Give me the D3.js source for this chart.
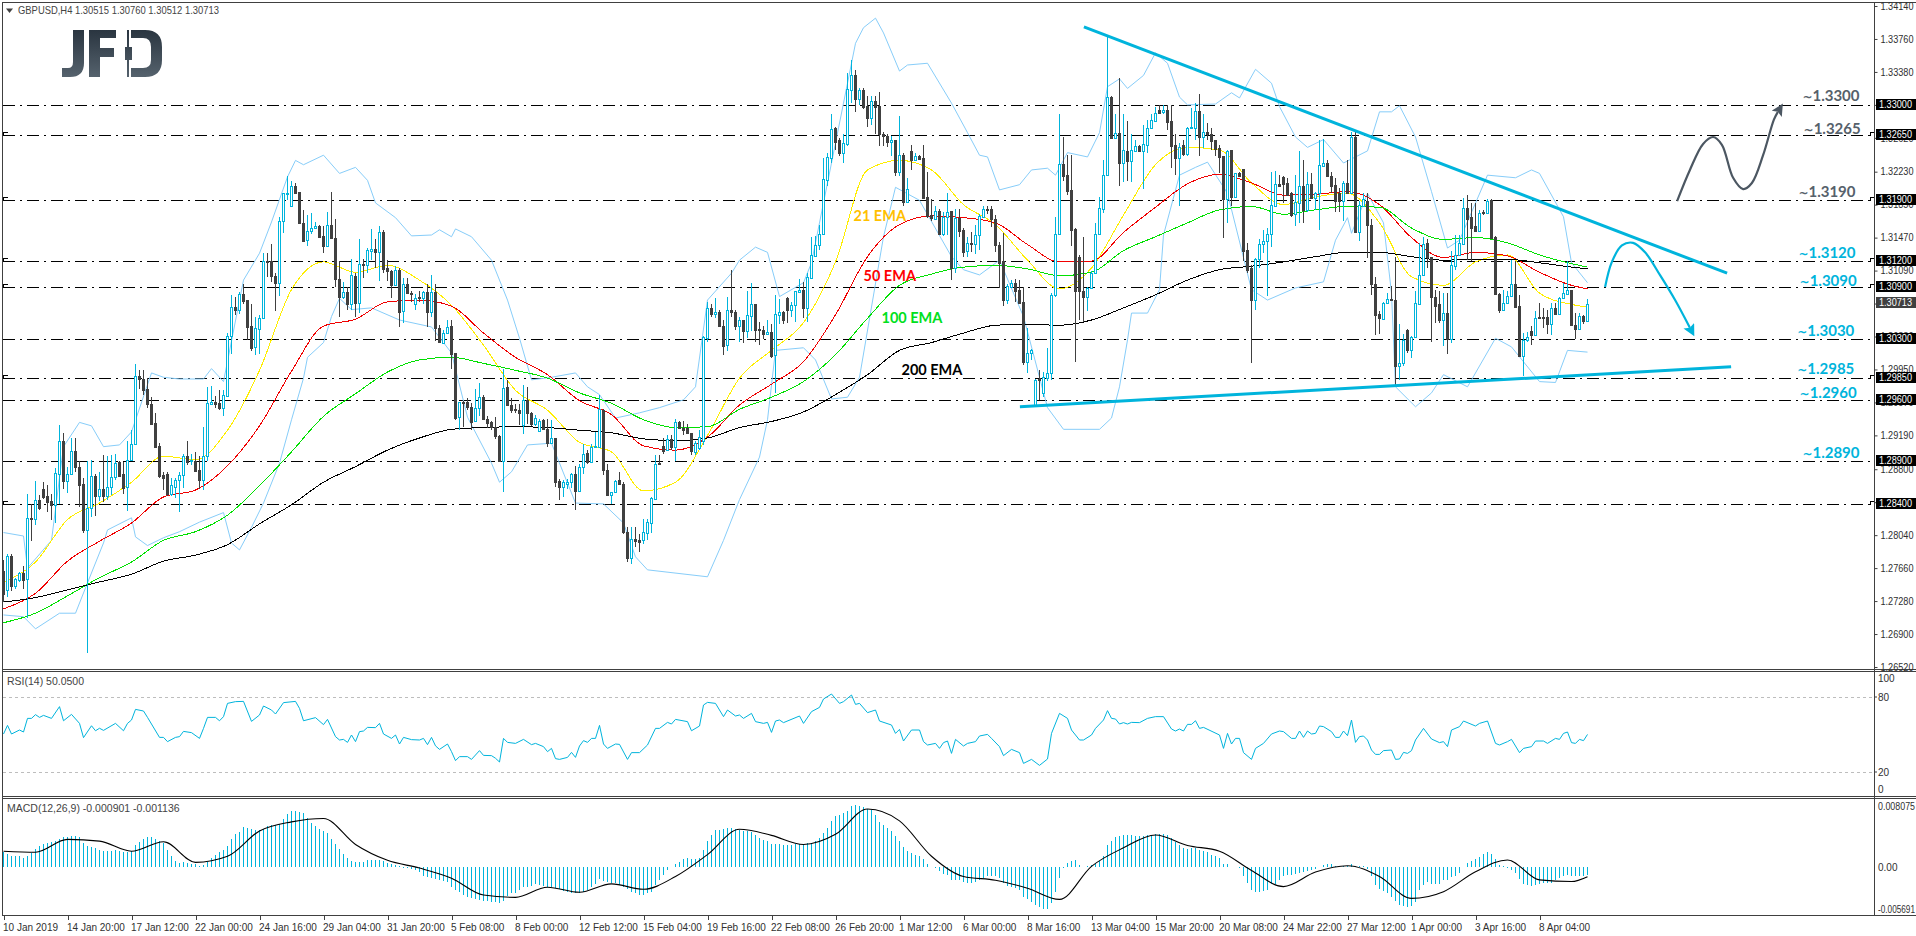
<!DOCTYPE html>
<html>
<head>
<meta charset="utf-8">
<title>GBPUSD H4</title>
<script src="https://cdn.jsdelivr.net/npm/d3@7"></script>
<style>
html, body { margin: 0; padding: 0; background: #fff; overflow: hidden; }
text { font-family: "Liberation Sans", sans-serif; }
.note { font-family: Lato, sans-serif; font-weight: 700; font-size: 15px; }
.ema { font-family: Lato, sans-serif; font-weight: 700; font-size: 14.5px; }
</style>
</head>
<body>
<div class="chart" style="width:1916px;height:936px"></div>
<script>
// all prices below are price x 10000, one entry per 4h bar
const opens = [
12763,12741,12780,12745,12752,12760,12753,12824,12823,12845,12857,12849,12843,12839,12875,12912,12866,12875,12901,12882,
12863,12810,12835,12872,12849,12857,12849,12860,12871,12888,12874,12859,12891,12909,12988,12984,12973,12955,12933,12907,
12873,12875,12852,12860,12867,12873,12895,12889,12890,12879,12868,12895,12955,12958,12956,12951,12964,13034,13067,13064,
13082,13075,13045,13021,13042,13054,13120,13120,13103,13095,13166,13197,13183,13207,13200,13164,13144,13155,13158,13160,
13149,13137,13161,13147,13099,13079,13084,13071,13103,13072,13117,13116,13132,13134,13130,13154,13112,13109,13092,13110,
13062,13094,13083,13071,13079,13077,13084,13061,13084,13043,13026,13037,13045,13014,12940,12958,12958,12952,12936,12950,
12963,12938,12934,12929,12918,12890,12975,12954,12949,12948,12931,12960,12945,12932,12924,12937,12926,12910,12916,12866,
12860,12863,12865,12874,12855,12883,12899,12888,12906,12906,12948,12879,12850,12854,12867,12863,12808,12778,12800,12798,
12798,12806,12818,12846,12887,12907,12902,12915,12906,12934,12927,12927,12922,12900,12904,12912,13031,13066,13059,13061,
13045,13023,13064,13061,13045,13052,13039,13057,13071,13042,13041,13036,13038,13012,13058,13061,13077,13064,13069,13084,
13087,13066,13101,13126,13138,13151,13213,13239,13273,13260,13244,13255,13317,13335,13307,13317,13299,13285,13304,13299,
13267,13264,13257,13259,13223,13242,13188,13247,13237,13241,13239,13194,13173,13169,13178,13151,13171,13178,13112,13170,
13156,13131,13141,13140,13150,13171,13180,13180,13168,13138,13120,13075,13090,13095,13087,13073,13004,13014,12953,12984,
12968,12985,12991,13081,13151,13232,13219,13202,13157,13125,13086,13078,13089,13106,13151,13180,13219,13309,13262,13268,
13233,13247,13235,13247,13253,13247,13254,13273,13282,13294,13292,13294,13281,13254,13239,13254,13243,13273,13273,13293,
13263,13269,13267,13259,13250,13241,13191,13248,13194,13221,13226,13133,13112,13075,13122,13140,13143,13151,13184,13209,
13217,13210,13198,13174,13187,13206,13179,13209,13193,13198,13230,13233,13218,13208,13199,13189,13210,13199,13263,13153,
13184,13189,13162,13094,13059,13053,13072,13076,13075,12999,13003,13040,13018,13032,13071,13104,13141,13125,13079,13070,
13052,13060,13030,13114,13127,13140,13181,13171,13160,13155,13177,13175,13190,13148,13082,13063,13072,13080,13094,13068,
13011,13029,13039,13035,13055,13055,13055,13047,13066,13059,13077,13082,13087,13046,13042,13057,13051];

const highs = [
12775,12782,12782,12755,12762,12769,12852,12840,12866,12850,12865,12862,12852,12881,12931,12922,12883,12916,12916,12889,
12870,12890,12891,12875,12877,12896,12895,12896,12898,12889,12888,12912,12925,13001,12994,12994,12985,12963,12945,12910,
12877,12877,12870,12870,12877,12898,12912,12898,12900,12895,12929,12975,12976,12964,12971,12971,13037,13081,13079,13084,
13094,13075,13071,13056,13058,13129,13129,13140,13106,13171,13198,13218,13212,13210,13200,13179,13173,13175,13165,13161,
13160,13177,13200,13169,13120,13096,13090,13122,13106,13145,13122,13135,13157,13145,13160,13156,13121,13110,13114,13112,
13101,13101,13086,13082,13085,13086,13094,13104,13094,13046,13041,13052,13052,13014,12958,12959,12962,12956,12973,12979,
12965,12941,12936,12940,12919,12996,12983,12962,12955,12955,12977,12975,12946,12942,12938,12938,12938,12937,12916,12869,
12867,12869,12876,12884,12886,12909,12902,12909,12923,12965,12949,12886,12854,12867,12877,12865,12813,12813,12813,12805,
12823,12823,12848,12896,12896,12916,12919,12919,12938,12936,12936,12932,12922,12913,12925,13034,13073,13071,13077,13063,
13052,13078,13110,13064,13056,13052,13085,13095,13071,13050,13045,13052,13047,13081,13076,13062,13078,13073,13086,13099,
13096,13106,13148,13149,13161,13239,13244,13289,13275,13262,13266,13337,13352,13340,13319,13319,13310,13310,13310,13315,
13269,13266,13264,13260,13287,13244,13216,13254,13244,13242,13254,13223,13191,13184,13180,13177,13198,13178,13180,13180,
13158,13148,13154,13161,13174,13184,13184,13183,13173,13142,13152,13093,13098,13099,13098,13090,13043,13019,12984,12994,
12992,13020,13083,13171,13290,13263,13242,13242,13158,13127,13148,13090,13108,13164,13194,13237,13381,13310,13290,13331,
13290,13281,13266,13260,13254,13277,13283,13289,13298,13300,13300,13300,13300,13266,13256,13260,13275,13296,13302,13312,
13289,13279,13273,13260,13254,13241,13248,13248,13221,13223,13226,13141,13116,13123,13145,13156,13158,13223,13224,13219,
13218,13216,13200,13219,13247,13237,13223,13221,13200,13260,13261,13237,13223,13216,13204,13212,13237,13269,13271,13189,
13199,13199,13168,13102,13062,13073,13083,13091,13125,13047,13036,13042,13034,13085,13141,13148,13145,13125,13087,13085,
13083,13083,13131,13150,13150,13193,13196,13187,13187,13179,13179,13191,13191,13149,13083,13087,13085,13121,13120,13081,
13037,13038,13045,13062,13072,13066,13063,13072,13072,13079,13095,13120,13087,13060,13060,13058,13076];

const lows = [
12727,12733,12740,12742,12750,12742,12709,12797,12816,12833,12846,12831,12821,12818,12840,12857,12853,12873,12877,12836,
12806,12668,12825,12826,12843,12842,12845,12850,12868,12871,12852,12832,12890,12908,12973,12966,12950,12931,12905,12870,
12856,12849,12849,12847,12831,12858,12885,12885,12877,12857,12856,12890,12954,12950,12948,12941,12963,13013,13058,13059,
13071,13029,13016,13012,13013,13053,13102,13096,13062,13080,13152,13190,13183,13198,13163,13142,13137,13151,13157,13148,
13129,13136,13146,13090,13056,13076,13064,13064,13055,13060,13101,13106,13121,13112,13097,13106,13097,13077,13091,13044,
13049,13082,13073,13064,13073,13071,13044,13056,13028,13025,13024,13037,12995,12937,12925,12929,12948,12925,12935,12941,
12937,12927,12925,12915,12890,12854,12953,12945,12945,12931,12921,12932,12930,12930,12923,12925,12906,12909,12859,12845,
12848,12857,12858,12833,12854,12875,12886,12887,12905,12905,12873,12849,12840,12853,12862,12805,12773,12771,12790,12785,
12794,12798,12806,12845,12885,12898,12901,12902,12890,12926,12919,12921,12896,12896,12902,12908,13027,13056,13054,13044,
13012,13016,13056,13041,13027,13025,13031,13039,13027,13023,13030,13035,13008,12968,13047,13047,13048,13056,13050,13083,
13054,13050,13100,13125,13133,13150,13206,13233,13248,13241,13233,13253,13302,13292,13300,13295,13275,13277,13266,13253,
13253,13252,13241,13218,13218,13184,13188,13225,13237,13237,13191,13170,13166,13168,13150,13149,13150,13098,13106,13148,
13125,13125,13130,13128,13133,13171,13174,13159,13130,13089,13068,13070,13089,13073,13071,13000,12991,13006,12953,12960,
12963,12982,12983,13079,13150,13212,13196,13137,13004,13052,13050,13062,13088,13105,13150,13175,13218,13261,13261,13207,
13211,13212,13211,13247,13247,13203,13244,13272,13281,13289,13290,13271,13227,13219,13183,13241,13241,13272,13260,13241,
13250,13260,13248,13241,13221,13146,13164,13183,13193,13217,13120,13106,13003,13063,13112,13129,13080,13136,13184,13206,
13187,13195,13171,13160,13164,13164,13177,13191,13179,13156,13229,13217,13198,13177,13177,13166,13197,13198,13152,13143,
13184,13123,13081,13035,13036,13052,13071,13074,12977,12983,12999,13014,13008,13031,13071,13103,13112,13027,13048,13048,
13022,13013,13025,13110,13127,13139,13121,13120,13154,13155,13173,13174,13146,13081,13060,13062,13071,13079,13066,13009,
12987,13027,13023,13034,13053,13043,13036,13035,13058,13058,13076,13081,13045,13030,13041,13047,13051];

const closes = [
12736,12780,12745,12753,12760,12752,12824,12823,12845,12835,12848,12842,12839,12876,12912,12866,12875,12901,12883,12862,
12810,12835,12872,12849,12857,12849,12860,12871,12887,12872,12858,12891,12909,12988,12984,12971,12955,12932,12906,12872,
12870,12851,12862,12868,12873,12895,12888,12891,12878,12868,12895,12956,12958,12955,12950,12965,13034,13067,13064,13082,
13074,13044,13020,13043,13054,13120,13119,13103,13095,13166,13198,13198,13207,13199,13164,13143,13155,13158,13160,13148,
13137,13161,13147,13099,13079,13084,13071,13104,13072,13117,13116,13133,13134,13130,13154,13111,13108,13092,13110,13061,
13094,13083,13082,13077,13077,13084,13061,13084,13043,13027,13037,13044,13013,12939,12957,12957,12952,12935,12951,12963,
12938,12933,12929,12918,12890,12974,12954,12948,12948,12945,12960,12945,12932,12939,12936,12926,12910,12916,12865,12860,
12865,12865,12874,12855,12883,12897,12888,12906,12907,12949,12879,12850,12854,12866,12863,12808,12778,12800,12797,12796,
12808,12819,12847,12886,12886,12901,12915,12906,12934,12927,12925,12922,12901,12910,12917,13033,13066,13059,13061,13045,
13022,13064,13061,13045,13052,13039,13058,13071,13041,13040,13036,13038,13011,13059,13061,13052,13064,13069,13085,13087,
13066,13102,13127,13138,13151,13214,13240,13272,13257,13244,13256,13318,13334,13307,13317,13297,13285,13304,13298,13267,
13264,13257,13259,13223,13242,13188,13203,13237,13241,13238,13193,13172,13170,13178,13151,13171,13176,13112,13170,13155,
13130,13141,13140,13150,13172,13180,13179,13168,13138,13118,13075,13091,13095,13086,13072,13004,13014,13017,12983,12983,
12986,12991,13081,13151,13232,13218,13201,13156,13085,13085,13078,13089,13106,13151,13181,13219,13309,13262,13268,13233,
13248,13235,13248,13253,13247,13255,13273,13283,13291,13291,13294,13280,13253,13239,13252,13243,13273,13275,13293,13263,
13269,13267,13258,13249,13240,13191,13247,13194,13221,13218,13132,13110,13075,13122,13140,13143,13151,13185,13209,13207,
13209,13196,13173,13188,13206,13179,13209,13193,13198,13231,13233,13218,13207,13189,13189,13210,13198,13263,13153,13185,
13191,13161,13093,13058,13054,13072,13076,13075,12999,13003,13029,13018,13033,13072,13104,13140,13125,13079,13068,13052,
13060,13030,13115,13127,13141,13181,13169,13158,13155,13175,13175,13189,13147,13082,13063,13072,13080,13094,13067,13010,
13029,13033,13035,13054,13054,13054,13047,13066,13059,13077,13083,13087,13046,13042,13057,13051,13071];

// moving averages read every 8 bars
const lineBars = [0,8,16,24,32,40,48,56,64,72,80,88,96,104,112,120,128,136,144,152,160,168,176,184,192,200,208,216,224,232,240,248,256,264,272,280,288,296,304,312,320,328,336,344,352,360,368,376,384,392,396];
const ema21 = [12750,12773,12822,12841,12865,12895,12891,12925,12994,13087,13119,13107,13115,13098,13069,13023,12971,12948,12911,12900,12855,12865,12919,12985,13017,13049,13119,13225,13236,13225,13185,13162,13121,13088,13112,13173,13231,13251,13248,13210,13185,13194,13198,13164,13102,13092,13119,13127,13083,13070,13067];
const ema50 = [12719,12737,12774,12797,12818,12848,12856,12884,12930,12993,13045,13053,13073,13075,13068,13037,13009,12989,12959,12943,12907,12902,12917,12954,12978,13004,13058,13125,13162,13172,13170,13164,13139,13119,13120,13153,13182,13209,13220,13210,13196,13197,13200,13185,13147,13124,13130,13126,13107,13092,13088];
const ema100 = [12703,12714,12734,12755,12773,12798,12808,12827,12861,12900,12941,12967,12992,13006,13009,13002,12994,12985,12968,12956,12937,12928,12929,12949,12963,12981,13012,13054,13092,13105,13113,13115,13111,13103,13107,13132,13148,13164,13179,13183,13174,13179,13183,13182,13158,13145,13147,13141,13127,13117,13113];
const ema200 = [12727,12732,12741,12750,12759,12774,12781,12793,12817,12839,12865,12883,12902,12916,12926,12928,12929,12928,12925,12922,12915,12913,12916,12928,12935,12946,12966,12989,13017,13026,13037,13046,13047,13046,13052,13066,13081,13098,13110,13114,13119,13125,13130,13130,13125,13121,13122,13122,13118,13113,13111];

// bollinger bands, read at their turning points
const upperBars = [0,5,6,12,15,19,22,25,29,32,37,40,44,50,52,55,60,64,67,71,73,75,80,84,88,91,93,98,102,107,109,112,113,117,122,126,129,132,137,143,146,149,153,159,164,170,173,176,182,184,188,191,194,200,202,210,213,215,218,220,224,226,231,237,241,244,246,249,254,257,261,263,266,271,274,276,279,281,285,288,291,294,296,303,307,309,313,317,319,323,326,330,335,341,344,347,349,353,357,361,364,371,378,382,384,390,392,396];
const upperValues = [12807,12803,12766,12798,12906,12934,12930,12906,12908,12923,12991,12986,12984,12984,12996,12981,13098,13129,13165,13217,13236,13231,13242,13221,13228,13213,13187,13170,13149,13150,13156,13148,13157,13148,13121,13075,13031,12983,12986,12991,12975,12966,12939,12945,12951,12960,12975,13075,13106,13121,13136,13130,13079,13095,13118,13302,13371,13389,13400,13383,13339,13346,13348,13302,13268,13242,13240,13202,13208,13225,13227,13219,13245,13240,13268,13321,13330,13319,13334,13360,13348,13309,13300,13301,13314,13308,13341,13325,13298,13263,13251,13260,13233,13247,13292,13292,13299,13263,13200,13135,13144,13219,13216,13225,13221,13171,13118,13095];
const lowerBars = [0,5,8,14,18,21,25,26,32,33,36,40,44,49,55,57,59,62,65,69,72,75,76,80,82,84,87,92,99,107,112,116,122,124,127,131,137,143,150,155,158,161,176,180,184,189,191,193,200,203,207,211,214,220,223,229,237,240,244,249,255,261,265,274,277,279,281,282,286,289,290,294,298,301,306,312,316,323,330,333,336,337,341,345,347,348,353,357,360,366,373,377,384,388,391,396];
const lowerValues = [12712,12710,12696,12714,12714,12749,12795,12810,12824,12802,12792,12801,12808,12819,12830,12795,12787,12813,12841,12887,12937,12985,13009,13026,13056,13077,13064,13066,13052,13044,13014,12940,12887,12865,12877,12908,12910,12841,12840,12818,12779,12764,12756,12798,12845,12894,12937,13017,13020,13006,12961,12963,12986,13148,13205,13190,13125,13110,13104,13121,13056,12951,12926,12926,12939,12975,13029,13060,13060,13087,13150,13219,13228,13234,13198,13087,13075,13089,13096,13144,13170,13152,13198,13164,13083,12975,12952,12968,12989,12975,13031,13021,12981,12980,13017,13015];

const rsiBars = [0,1,2,4,5,6,7,8,9,10,12,14,15,17,19,20,22,23,24,25,28,30,31,32,33,35,36,39,40,41,43,44,45,47,49,50,51,53,54,55,56,58,60,62,64,65,67,68,70,73,74,75,78,80,81,83,84,85,86,87,88,89,90,91,93,94,95,97,98,99,100,102,104,105,106,107,108,109,111,112,113,114,116,117,119,120,122,123,124,125,126,128,130,132,133,135,136,137,138,139,141,142,143,144,145,146,147,148,149,150,151,153,154,156,157,159,161,163,164,166,167,168,171,172,174,175,176,178,180,181,183,184,185,187,188,190,191,192,193,194,195,199,200,202,204,205,207,209,210,212,213,214,216,218,219,222,223,224,225,227,229,230,231,233,234,235,236,237,238,240,241,243,244,246,247,249,250,252,254,255,257,259,261,262,264,266,267,269,270,272,273,275,276,277,278,279,280,281,282,284,286,288,290,292,293,294,295,296,297,298,299,300,304,305,306,307,308,309,310,312,313,315,317,319,320,322,323,324,325,326,327,328,329,330,332,333,334,335,336,337,338,339,340,341,342,343,344,345,347,348,349,350,351,352,353,355,357,359,360,361,362,364,365,368,369,371,373,374,376,377,379,380,382,383,385,386,388,389,390,391,392,393,394,395,396];
const rsiValues = [50.4,57.3,50.4,53.6,52,62.9,62.9,65.9,63.7,65.3,62.9,72.3,61,66.1,58.9,47.5,57,53,55,53.3,58.9,53,58.9,61.6,70.1,68.8,63.7,47.7,47.7,44.3,47.7,48.3,52.5,51.5,46.9,54.9,63.7,63.7,61,64.3,74.9,76.3,76.5,60.5,65.6,72.8,69.6,66.4,75.5,76.5,70.9,61,63.5,57.9,62.1,48.3,45.6,46.1,43.7,49.6,44.3,52.3,52.8,55.7,55.5,58.9,50.4,46.9,49.6,42.4,47.7,45.9,45.6,46.9,41.9,47.7,40.9,38.1,42.4,36.3,29.1,32.3,32.3,30.1,37.1,33.3,33.1,31,28,46.9,43.7,42.9,46.1,41.9,42.9,40.3,36.3,38.9,30.7,30.1,31.7,35.7,31.7,40.8,45.1,43.7,46.9,46.9,57.3,42.4,38.9,42.4,42.1,30.1,35.5,35.5,41.6,54.9,54.9,59.7,58.4,62.1,60.3,53,56.8,73.6,75.7,74.9,64.3,69.6,64.8,65.6,62.9,66.9,60.3,58.9,59.7,51.7,60.8,61.6,59.5,64.8,58.9,68.3,71.7,78.4,82.4,74.9,76.3,81.6,74.1,74.9,67.5,69.6,60.8,57.6,50.9,54.1,44.8,53.6,53.6,44.3,41.6,42.9,38.9,43.5,44.8,34.9,46.1,40.8,42.9,44.3,48.8,50.1,46.9,40.3,33.1,38.1,35.5,26.9,30.1,25.3,30.4,50.9,66.9,62.9,53.6,45.6,45.6,49.6,54.9,61.6,69.1,62.9,62.4,58.4,59.5,58.4,59.7,59.5,62.9,64.3,64.3,54.4,52.8,54.4,52.8,58.1,58.1,61,54.9,55.7,49.6,38.9,50.9,42.4,46.9,46.9,35.5,30.1,38.9,42.9,50.4,52.8,52.3,46.9,46.9,52.8,47.7,52.8,50.4,50.9,56.8,56.3,52.3,47.7,47.7,52.8,49.1,61.6,43.7,48.3,48.8,45.6,37.6,34.1,34.1,37.1,37.6,30.1,30.4,35.7,34.9,37.1,45.6,54.9,46.4,43.5,44.3,40.3,53.6,56.3,60.8,56.8,58.9,60.8,42.9,41.6,44.3,46.1,35.5,38.9,40.3,44.8,44.8,42.9,46.9,46.1,50.9,52,43.5,42.9,46.1,45.1,50.05];

// macd histogram, one per bar, value x 100000
const macdHist = [
176,160,136,128,128,108,128,168,216,248,268,280,296,312,328,360,360,368,368,356,
288,248,240,228,208,188,188,188,200,188,176,176,188,256,300,328,360,360,328,308,
280,200,128,68,48,56,48,40,40,16,28,56,108,148,176,200,248,328,388,416,
480,468,456,440,440,448,488,504,496,508,576,628,664,664,652,640,584,528,488,456,
428,400,328,272,216,160,108,72,56,56,64,88,88,88,80,68,48,40,28,8,
-12,-16,-24,-40,-56,-112,-120,-132,-144,-152,-160,-172,-232,-272,-300,-332,-360,-372,-384,-392,
-400,-404,-412,-420,-432,-400,-344,-312,-304,-272,-240,-232,-224,-200,-212,-224,-232,-232,-244,-264,
-280,-292,-304,-304,-304,-292,-272,-232,-200,-144,-160,-172,-184,-192,-212,-232,-264,-292,-312,-332,
-332,-312,-292,-212,-152,-92,-32,0,40,56,96,108,96,96,108,200,308,376,440,440,
448,468,468,456,440,428,428,416,376,348,320,308,268,268,268,264,256,256,268,268,
268,280,288,308,348,408,468,548,608,616,640,668,728,736,728,708,688,680,616,536,
496,468,428,368,308,240,188,168,148,128,96,40,0,-12,-52,-80,-92,-152,-152,-152,
-172,-184,-184,-172,-152,-132,-112,-112,-112,-132,-192,-224,-232,-252,-272,-352,-384,-412,-452,-480,
-492,-492,-432,-292,-132,-12,48,72,80,28,0,8,28,40,68,136,256,308,360,368,
376,376,376,368,368,368,376,376,388,388,388,380,348,296,256,228,220,228,228,200,
188,176,148,128,108,40,40,0,0,-12,-104,-184,-272,-300,-300,-280,-272,-200,-200,-152,
-112,-92,-92,-84,-72,-64,-52,-40,-24,0,28,40,40,8,0,8,16,40,16,8,
8,-24,-104,-212,-264,-280,-312,-352,-400,-452,-460,-472,-464,-412,-272,-212,-172,-200,-200,-200,
-152,-152,-120,-112,-72,0,48,68,96,120,160,176,160,96,28,8,-12,-32,-72,-144,
-200,-212,-224,-212,-200,-192,-184,-184,-152,-132,-104,-92,-104,-112,-112,-112,-90];
const macdSignal = [188,176,328,308,188,300,56,128,428,536,576,268,80,-12,-132,-332,-360,-240,-300,-200,-264,-112,148,448,376,268,388,688,548,128,-112,-156,-252,-384,8,228,380,256,188,-40,-232,-60,16,-112,-372,-292,-56,84,-152,-172,-114];

// horizontal levels and axis labels
const levels = [13300,13265,13190,13120,13090,13030,12985,12960,12890,12840];
const markedLevels = [13265,13190,13120,13090,12985,12840];
const priceTicks = [13414,13376,13338,13300,13262,13223,13185,13147,13109,13071,13033,12995,12957,12919,12880,12842,12804,12766,12728,12690,12652];
const rsiTicks = [100,80,20,0];
const macdTicks = [0.008075,0,-0.005691];
const timeLabels = ['10 Jan 2019','14 Jan 20:00','17 Jan 12:00','22 Jan 00:00','24 Jan 16:00','29 Jan 04:00','31 Jan 20:00','5 Feb 08:00','8 Feb 00:00','12 Feb 12:00','15 Feb 04:00','19 Feb 16:00','22 Feb 08:00','26 Feb 20:00','1 Mar 12:00','6 Mar 00:00','8 Mar 16:00','13 Mar 04:00','15 Mar 20:00','20 Mar 08:00','24 Mar 22:00','27 Mar 12:00','1 Apr 00:00','3 Apr 16:00','8 Apr 04:00'];

// drawn analysis on top of the chart, bar number and price
const downTrendBars = [270.1,430.9], downTrendPrices = [13390,13106];
const upTrendBars = [254.1,431.9], upTrendPrices = [12952,12998];
const greyPathBars = [418.4,421.6,424.9,427.4,429.6,432.4,434.9,437.1,439.9,442.6,443.6];
const greyPathPrices = [13189,13225,13255,13263,13254,13216,13203,13210,13242,13283,13292];
const bluePathBars = [400.4,402.1,404.6,407.4,410.4,414.1,417.9,421.6];
const bluePathPrices = [13090,13119,13138,13141,13130,13104,13075,13043];

const noteLabels = ['1.3300','1.3265','1.3190','1.3120','1.3090','1.3030','1.2985','1.2960','1.2890'];
const notePrices = [13311,13273,13201,13130,13098,13041,12997,12969,12900];
const noteBars = [464,464.3,463,463,463.3,462.7,462.7,463.3,464];
const noteColors = ['#56616b','#56616b','#56616b','#00b4dc','#00b4dc','#00b4dc','#00b4dc','#00b4dc','#00b4dc'];

const emaLabels = ['21 EMA','50 EMA','100 EMA','200 EMA'];
const emaLabelBars = [212.5,215,219.5,224.5];
const emaLabelPrices = [13173,13104,13056,12995];
const emaLabelColors = ['#ffc000','#ff0000','#00e020','#000000'];

const width = 1916, height = 936;
const cyan = '#00b4dc', dark = '#404040', band = '#87cdf9';
const left = 3, axisX = 1874;

const svg = d3.select('.chart').append('svg').attr('width', width).attr('height', height)
	.style('display', 'block');

const x = d3.scaleLinear().domain([0, 396]).range([3.5, 1587.5]);
const y = d3.scaleLinear().domain([12652, 13414]).range([667, 6]);
const yRsi = d3.scaleLinear().domain([0, 100]).range([797, 672]);
const yMacd = d3.scaleLinear().domain([-0.005691, 0.008075]).range([915, 799]);

// panel frames
const frames = svg.append('g').attr('stroke', '#404040').attr('stroke-width', 1).attr('shape-rendering', 'crispEdges');
[2, 669, 671, 796, 798, 915].forEach(function(py) {
	frames.append('line').attr('x1', 2).attr('x2', width).attr('y1', py + 0.5).attr('y2', py + 0.5);
});
frames.append('line').attr('x1', 2.5).attr('x2', 2.5).attr('y1', 2).attr('y2', 915);
frames.append('line').attr('x1', axisX + 0.5).attr('x2', axisX + 0.5).attr('y1', 2).attr('y2', 915);

// dash dot levels
svg.append('g').selectAll('line').data(levels).join('line')
	.attr('x1', left).attr('x2', axisX)
	.attr('y1', d => Math.round(y(d)) + 0.5).attr('y2', d => Math.round(y(d)) + 0.5)
	.attr('stroke', '#000').attr('stroke-width', 1)
	.attr('stroke-dasharray', '12,5,2,5').attr('shape-rendering', 'crispEdges');

// small hooks at both ends of some levels
const hooks = svg.append('g').attr('fill', 'none').attr('stroke', '#000').attr('shape-rendering', 'crispEdges');
markedLevels.forEach(function(d) {
	const py = Math.round(y(d));
	hooks.append('path').attr('d', `M3.5,${py + 1}V${py - 3}H8`);
	hooks.append('path').attr('d', `M${axisX - 3.5},${py + 1}V${py - 3}H${axisX}`);
});

// sampled lines
function sampled(bars, values, scale, color, w, curve) {
	const line = d3.line().x((d, i) => x(bars[i])).y(d => scale(d)).curve(curve || d3.curveMonotoneX);
	return svg.append('path').datum(values).attr('d', line)
		.attr('fill', 'none').attr('stroke', color).attr('stroke-width', w || 1);
}
sampled(upperBars, upperValues, y, band, 1, d3.curveLinear);
sampled(lowerBars, lowerValues, y, band, 1, d3.curveLinear);
sampled(lineBars, ema21, y, '#ffee00', 1).attr('shape-rendering', 'crispEdges');
sampled(lineBars, ema50, y, '#f00000', 1).attr('shape-rendering', 'crispEdges');
sampled(lineBars, ema100, y, '#00e000', 1).attr('shape-rendering', 'crispEdges');
sampled(lineBars, ema200, y, '#000000', 1).attr('shape-rendering', 'crispEdges');

// candles
const candles = svg.append('g').attr('shape-rendering', 'crispEdges');
closes.forEach(function(c, i) {
	const o = opens[i], up = c >= o, color = up ? cyan : dark;
	const cx = Math.floor(x(i));
	candles.append('line').attr('x1', cx + 0.5).attr('x2', cx + 0.5)
		.attr('y1', y(highs[i])).attr('y2', y(lows[i])).attr('stroke', color);
	const top = Math.round(y(Math.max(o, c))), bottom = Math.round(y(Math.min(o, c)));
	candles.append('rect').attr('x', cx - 0.5).attr('y', top + 0.5)
		.attr('width', 2).attr('height', Math.max(bottom - top, 1))
		.attr('fill', up ? '#fff' : dark).attr('stroke', color);
});

// trend lines
[[downTrendBars, downTrendPrices], [upTrendBars, upTrendPrices]].forEach(function(t) {
	svg.append('line')
		.attr('x1', x(t[0][0])).attr('y1', y(t[1][0]))
		.attr('x2', x(t[0][1])).attr('y2', y(t[1][1]))
		.attr('stroke', cyan).attr('stroke-width', 3);
});

// arrows
const defs = svg.append('defs');
function arrowHead(id, color) {
	defs.append('marker').attr('id', id).attr('viewBox', '0 0 10 10')
		.attr('refX', 2).attr('refY', 5).attr('markerUnits', 'userSpaceOnUse')
		.attr('markerWidth', 13).attr('markerHeight', 12).attr('orient', 'auto')
		.append('path').attr('d', 'M0,0L10,5L0,10L2,5Z').attr('fill', color);
}
arrowHead('arrowGrey', '#4c5762');
arrowHead('arrowBlue', cyan);
sampled(greyPathBars, greyPathPrices, y, '#4c5762', 2.2, d3.curveCatmullRom).attr('marker-end', 'url(#arrowGrey)');
sampled(bluePathBars, bluePathPrices, y, cyan, 2.2, d3.curveCatmullRom).attr('marker-end', 'url(#arrowBlue)');

// level notes at the right, the tilde in a font where it reads as a tilde
const notes = svg.append('g').selectAll('text').data(noteLabels).join('text')
	.attr('class', 'note')
	.attr('x', (d, i) => x(noteBars[i])).attr('y', (d, i) => y(notePrices[i]) + 6)
	.attr('text-anchor', 'end').attr('fill', (d, i) => noteColors[i]);
notes.append('tspan').attr('font-family', '"DejaVu Sans"').style('font-family', '"DejaVu Sans"').style('font-size', '12px').text('~');
notes.append('tspan').text(d => d);

// ema notes
svg.append('g').selectAll('text').data(emaLabels).join('text')
	.attr('class', 'ema')
	.attr('x', (d, i) => x(emaLabelBars[i])).attr('y', (d, i) => y(emaLabelPrices[i]) + 6)
	.attr('fill', (d, i) => emaLabelColors[i])
	.text(d => d);

// price axis
const priceAxis = svg.append('g').attr('transform', `translate(${axisX + 0.5},0)`)
	.call(d3.axisRight(y).tickValues(priceTicks).tickSize(3).tickPadding(3).tickFormat(d => (d / 10000).toFixed(5)));
priceAxis.select('.domain').remove();
priceAxis.selectAll('text').attr('font-size', 10).attr('fill', '#303030').attr('font-family', '"Liberation Sans"')
	.attr('textLength', 33).attr('lengthAdjust', 'spacingAndGlyphs');
priceAxis.selectAll('line').attr('stroke', '#404040');

// black boxes for the levels and the last price
function priceBox(value, fill) {
	const py = Math.round(y(value));
	svg.append('rect').attr('x', axisX + 2).attr('y', py - 6).attr('width', 40).attr('height', 11).attr('fill', fill);
	svg.append('text').attr('x', axisX + 5).attr('y', py + 3).attr('font-size', 10)
		.attr('textLength', 33).attr('lengthAdjust', 'spacingAndGlyphs')
		.attr('fill', '#fff').text((value / 10000).toFixed(5));
}
levels.forEach(d => priceBox(d, '#000'));
priceBox(closes[closes.length - 1] + 0.3, '#404040');

// rsi
[80, 20].forEach(function(d) {
	svg.append('line').attr('x1', left).attr('x2', axisX)
		.attr('y1', Math.round(yRsi(d)) + 0.5).attr('y2', Math.round(yRsi(d)) + 0.5)
		.attr('stroke', '#bdbdbd').attr('stroke-dasharray', '3,3').attr('shape-rendering', 'crispEdges');
});
sampled(rsiBars, rsiValues, yRsi, cyan, 1, d3.curveLinear);
const rsiLabelY = {100: 678, 80: 697, 20: 772, 0: 789};
rsiTicks.forEach(function(d) {
	svg.append('text').attr('x', axisX + 4).attr('y', rsiLabelY[d] + 3.5).attr('font-size', 10)
		.attr('fill', '#303030').text(d);
	if (d == 80 || d == 20) {
		svg.append('line').attr('x1', axisX).attr('x2', axisX + 3).attr('y1', yRsi(d)).attr('y2', yRsi(d)).attr('stroke', '#404040');
	}
});

// macd
const histGroup = svg.append('g').attr('shape-rendering', 'crispEdges');
macdHist.forEach(function(v, i) {
	histGroup.append('line').attr('x1', Math.floor(x(i)) + 0.5).attr('x2', Math.floor(x(i)) + 0.5)
		.attr('y1', yMacd(0)).attr('y2', yMacd(v / 100000)).attr('stroke', cyan);
});
sampled(lineBars, macdSignal.map(d => d / 100000), yMacd, '#000', 1.1);
const macdLabelY = [806, 867, 909];
macdTicks.forEach(function(d, i) {
	const t = svg.append('text').attr('x', axisX + 4).attr('y', macdLabelY[i] + 3.5).attr('font-size', 10)
		.attr('fill', '#303030').text(d == 0 ? '0.00' : d.toFixed(6));
	if (d != 0) t.attr('textLength', 37).attr('lengthAdjust', 'spacingAndGlyphs');
});

// time axis
const timeAxis = svg.append('g').attr('transform', 'translate(0,915.5)')
	.call(d3.axisBottom(x).tickValues(timeLabels.map((d, i) => i * 16)).tickSize(4).tickFormat((d, i) => timeLabels[i]));
timeAxis.select('.domain').remove();
timeAxis.selectAll('line').attr('stroke', '#404040').attr('shape-rendering', 'crispEdges');
timeAxis.selectAll('text').attr('text-anchor', 'start').attr('dx', -1).attr('y', 8).attr('dy', '0.71em')
	.attr('font-size', 10).attr('font-family', '"Liberation Sans"').attr('fill', '#303030');

// panel titles
svg.append('path').attr('d', 'M6,8.5H13L9.5,13Z').attr('fill', '#404040');
svg.append('text').attr('x', 18).attr('y', 14).attr('font-size', 11).attr('fill', '#444')
	.attr('textLength', 201).attr('lengthAdjust', 'spacingAndGlyphs')
	.text('GBPUSD,H4  1.30515 1.30760 1.30512 1.30713');
svg.append('text').attr('x', 7).attr('y', 685).attr('font-size', 10.5).attr('fill', '#444').text('RSI(14) 50.0500');
svg.append('text').attr('x', 7).attr('y', 812).attr('font-size', 10.5).attr('fill', '#444').text('MACD(12,26,9) -0.000901 -0.001136');

// logo
const grad = defs.append('linearGradient').attr('id', 'logoFill').attr('x1', 0).attr('x2', 0).attr('y1', 0).attr('y2', 1);
grad.append('stop').attr('offset', 0).attr('stop-color', '#2a3540');
grad.append('stop').attr('offset', 1).attr('stop-color', '#55626d');
const logo = svg.append('g').attr('fill', 'url(#logoFill)');
logo.append('path').attr('d', 'M73,30H84V63Q84,77 70,77H62V68H68Q73,68 73,62Z');
logo.append('path').attr('d', 'M89,30H116V38H100V48H114V57H100V77H89Z');
logo.append('path').attr('d', 'M131,30H145Q162,30 162,47V60Q162,77 145,77H131V68H143Q151,68 151,60V47Q151,38 143,38H131Z');
logo.append('path').attr('d', 'M127,30H129V47H132V60H129V77H127V60H125V47H127Z');
</script>
</body>
</html>
